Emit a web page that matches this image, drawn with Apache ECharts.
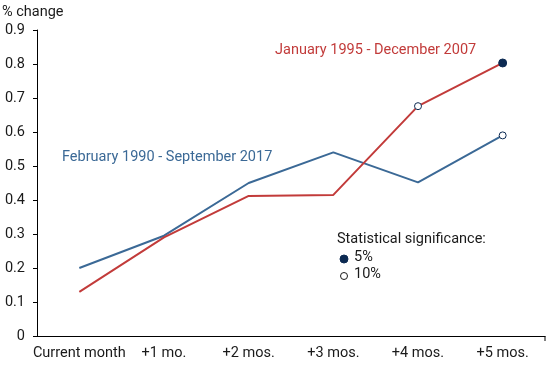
<!DOCTYPE html>
<html><head><meta charset="utf-8">
<script src="https://cdn.jsdelivr.net/npm/echarts@6/dist/echarts.min.js"></script>
<style>html,body{margin:0;padding:0;background:#fff}#c{width:550px;height:365px}</style>
</head><body><div id="c"></div>
<script>
var categories = ['Current month', '+1 mo.', '+2 mos.', '+3 mos.', '+4 mos.', '+5 mos.'];
var blueValues = [0.20, 0.295, 0.45, 0.54, 0.452, 0.59];
var redValues = [0.13, 0.29, 0.412, 0.415, 0.676, 0.803];
// significance: '' none, '5' = 5%, '10' = 10%
var blueSig = ['', '', '', '', '', '10'];
var redSig = ['', '', '', '', '10', '5'];
var yTicks = [0, 0.1, 0.2, 0.3, 0.4, 0.5, 0.6, 0.7, 0.8, 0.9];

var BLUE = '#3b6996', RED = '#c23b3a', NAVY = '#0c2a52';
var FONT = 'Roboto';
var FS = 14.5;

function points(vals, sig) {
  return vals.map(function (v, i) {
    if (sig[i] === '5') return { value: v, symbol: 'circle', symbolSize: 8, itemStyle: { color: NAVY, borderColor: NAVY, borderWidth: 1 } };
    if (sig[i] === '10') return { value: v, symbol: 'circle', symbolSize: 7, itemStyle: { color: '#fff', borderColor: NAVY, borderWidth: 1 } };
    return { value: v, symbol: 'none' };
  });
}

var chart = echarts.init(document.getElementById('c'), null, { renderer: 'canvas' });
chart.setOption({
  animation: false,
  textStyle: { fontFamily: FONT },
  grid: { left: 37, right: 5, top: 30, bottom: 29, containLabel: false },
  xAxis: {
    type: 'category', data: categories, boundaryGap: true,
    axisLine: { lineStyle: { color: '#000', width: 1 } },
    axisTick: { alignWithLabel: true, length: 5, lineStyle: { color: '#000' } },
    axisLabel: { color: '#1a1a1a', fontSize: FS, margin: 10, fontFamily: FONT, interval: 0 }
  },
  yAxis: {
    type: 'value', min: 0, max: 0.9, interval: 0.1,
    axisLine: { show: true, lineStyle: { color: '#000', width: 1 } },
    axisTick: { show: true, length: 4, lineStyle: { color: '#000' } },
    splitLine: { show: false },
    axisLabel: { color: '#1a1a1a', fontSize: FS, margin: 12, fontFamily: FONT,
      formatter: function (v) { return v === 0 ? '0' : v.toFixed(1); } }
  },
  series: [
    { type: 'line', data: points(blueValues, blueSig), lineStyle: { color: BLUE, width: 2 }, itemStyle: { color: BLUE }, z: 2 },
    { type: 'line', data: points(redValues, redSig), lineStyle: { color: RED, width: 2 }, itemStyle: { color: RED }, z: 3 }
  ],
  graphic: [
    { type: 'text', left: 2, top: 5, style: { text: '% change', fontSize: FS, fill: '#1a1a1a', fontFamily: FONT } },
    { type: 'text', left: 275, top: 43, style: { text: 'January 1995 - December 2007', fontSize: FS, fill: RED, fontFamily: FONT } },
    { type: 'text', left: 62, top: 150, style: { text: 'February 1990 - September 2017', fontSize: FS, fill: BLUE, fontFamily: FONT } },
    { type: 'text', left: 337, top: 232, style: { text: 'Statistical significance:', fontSize: FS, fill: '#1a1a1a', fontFamily: FONT } },
    { type: 'circle', shape: { cx: 344, cy: 259, r: 4 }, style: { fill: NAVY, stroke: NAVY } },
    { type: 'text', left: 354, top: 250, style: { text: '5%', fontSize: FS, fill: '#1a1a1a', fontFamily: FONT } },
    { type: 'circle', shape: { cx: 344, cy: 276, r: 3.5 }, style: { fill: '#fff', stroke: '#1a1a1a', lineWidth: 1 } },
    { type: 'text', left: 354, top: 267, style: { text: '10%', fontSize: FS, fill: '#1a1a1a', fontFamily: FONT } },
    { type: 'line', shape: { x1: 545, y1: 336, x2: 545, y2: 341 }, style: { stroke: '#000', lineWidth: 1 } }
  ]
});
</script></body></html>
